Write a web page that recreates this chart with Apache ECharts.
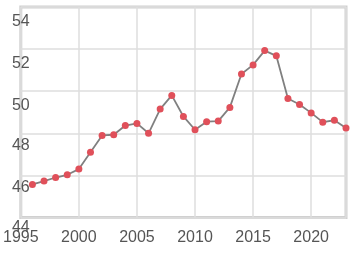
<!DOCTYPE html>
<html><head><meta charset="utf-8">
<script src="https://cdn.jsdelivr.net/npm/echarts@6/dist/echarts.min.js"></script>
<style>html,body{margin:0;padding:0;background:#fff}#c{width:357px;height:257px}</style>
</head><body><div id="c"></div>
<script>
var years = [1996,1997,1998,1999,2000,2001,2002,2003,2004,2005,2006,2007,2008,2009,2010,2011,2012,2013,2014,2015,2016,2017,2018,2019,2020,2021,2022,2023];
var values = [45.57,45.73,45.9,46.03,46.3,47.1,47.9,47.93,48.37,48.47,48.0,49.15,49.8,48.8,48.17,48.55,48.58,49.23,50.82,51.25,51.93,51.68,49.65,49.37,48.97,48.53,48.62,48.25];
var yTicks = [44,46,48,50,52,54];
var xTicks = [1995,2000,2005,2010,2015,2020];

var pts = years.map(function(y,i){return [y, values[i]];});
var yPad = {44:2,46:4,48:4,50:6,52:6,54:7};
var rich = {};
yTicks.forEach(function(t){ rich['v'+t] = {padding:[yPad[t],0,0,0], fontSize:16, color:'#555', fontFamily:'Liberation Sans, Arial, sans-serif'}; });

var chart = echarts.init(document.getElementById('c'), null, {renderer:'canvas'});
chart.setOption({
  animation:false,
  grid:{left:16.5, right:11, top:7, bottom:39.5, show:true, borderColor:'#d0d0d0', borderWidth:3, backgroundColor:'transparent'},
  xAxis:{type:'value', min:1995, max:2023, interval:5,
    axisLine:{show:false}, axisTick:{show:false},
    splitLine:{show:true, lineStyle:{color:'#dedede', width:1.5}},
    axisLabel:{showMaxLabel:false, margin:12, fontSize:16, color:'#555', fontFamily:'Liberation Sans, Arial, sans-serif',
      formatter:function(v){return xTicks.indexOf(v)>=0 ? String(v) : '';}}},
  yAxis:{type:'value', min:44, max:54, interval:2,
    axisLine:{show:false}, axisTick:{show:false},
    splitLine:{show:true, lineStyle:{color:'#dedede', width:1.5}},
    axisLabel:{margin:0, align:'center', verticalAlign:'top', rich:rich,
      formatter:function(v){return '{v'+v+'|'+v+'}';}}},
  series:[{type:'line', data:pts, symbol:'circle', symbolSize:7,
    lineStyle:{color:'#808080', width:1.8},
    itemStyle:{color:'#e0505a'}}]
});
</script></body></html>
